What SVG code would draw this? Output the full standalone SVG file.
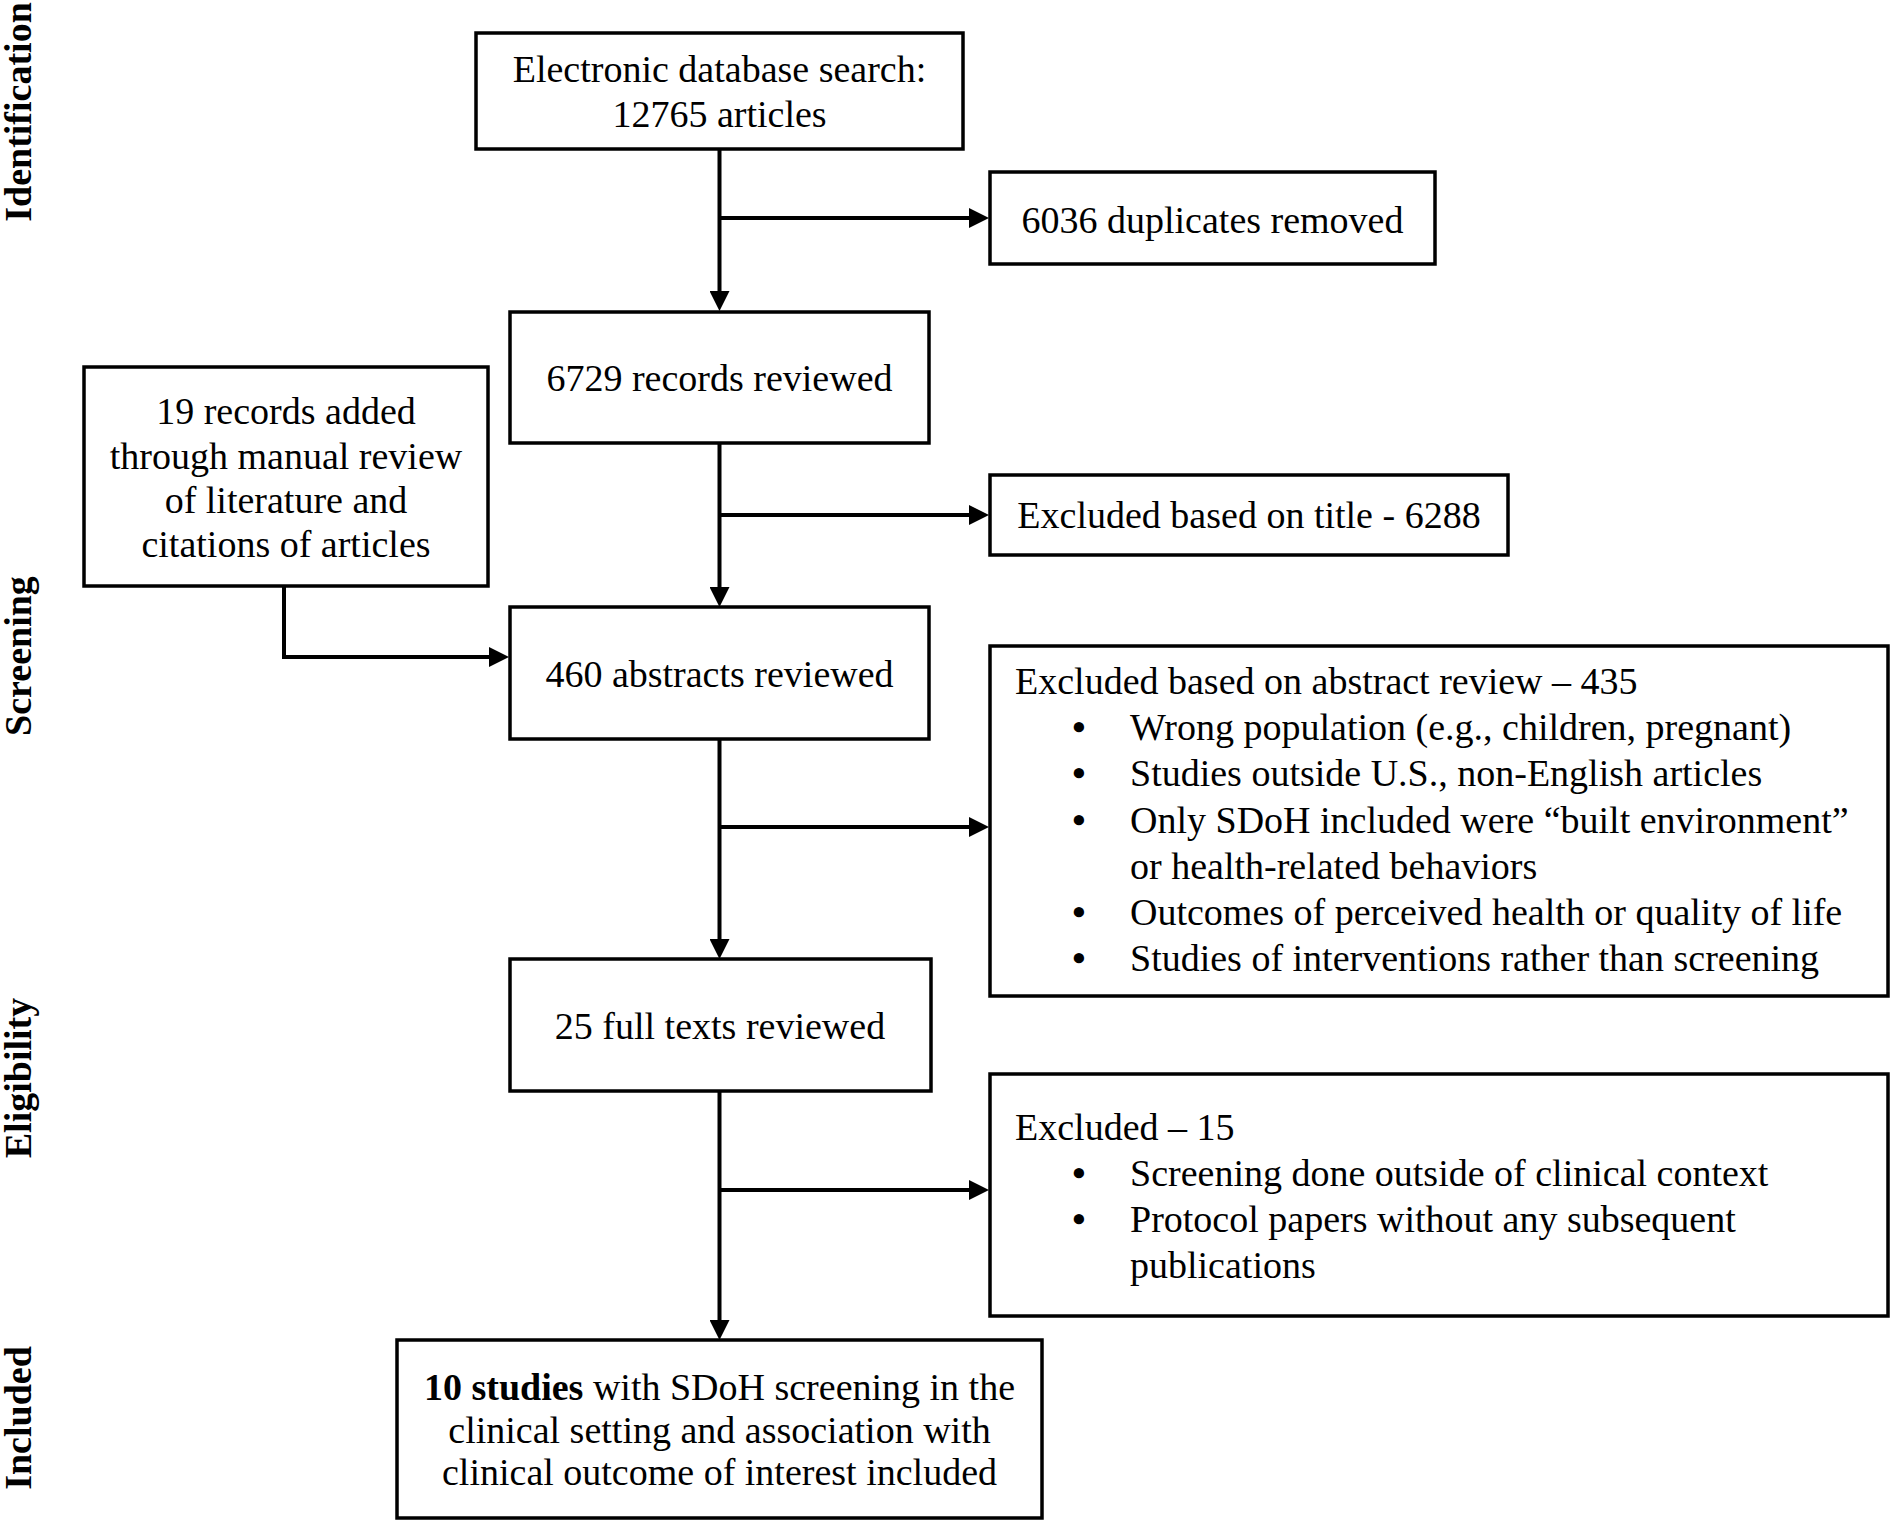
<svg xmlns="http://www.w3.org/2000/svg" width="1892" height="1521" viewBox="0 0 1892 1521">
<style>
  .box { fill: #ffffff; stroke: #000000; stroke-width: 3.5; }
  .t { font-family: "Liberation Serif", "Times New Roman", serif; font-size: 38px; fill: #000000; }
  .c { text-anchor: middle; }
  .b { font-family: "Liberation Serif", "Times New Roman", serif; font-size: 38px; font-weight: bold; fill: #000000; text-anchor: middle; }
  .lab { font-family: "Liberation Serif", "Times New Roman", serif; font-size: 38px; font-weight: bold; fill: #000000; text-anchor: middle; }
  .conn { fill: none; stroke: #000000; stroke-width: 4; }
</style>
<defs>
  <marker id="arr" markerUnits="userSpaceOnUse" markerWidth="20" markerHeight="20" refX="11" refY="10" orient="auto">
    <path d="M0,0 L20,10 L0,20 z" fill="#000000"/>
  </marker>
</defs>
<rect x="0" y="0" width="1892" height="1521" fill="#ffffff"/>

<g id="stage-labels">
  <text class="lab" transform="translate(31,112) rotate(-90)">Identification</text>
  <text class="lab" transform="translate(31,656) rotate(-90)">Screening</text>
  <text class="lab" transform="translate(31,1078) rotate(-90)">Eligibility</text>
  <text class="lab" transform="translate(31,1418) rotate(-90)">Included</text>
</g>

<g id="connectors">
  <line class="conn" x1="719.5" y1="149" x2="719.5" y2="302" marker-end="url(#arr)"/>
  <line class="conn" x1="719.5" y1="218" x2="980" y2="218" marker-end="url(#arr)"/>
  <line class="conn" x1="719.5" y1="443" x2="719.5" y2="598" marker-end="url(#arr)"/>
  <line class="conn" x1="719.5" y1="515" x2="980" y2="515" marker-end="url(#arr)"/>
  <path class="conn" d="M284,586 L284,657 L500,657" marker-end="url(#arr)"/>
  <line class="conn" x1="719.5" y1="739" x2="719.5" y2="950" marker-end="url(#arr)"/>
  <line class="conn" x1="719.5" y1="827" x2="980" y2="827" marker-end="url(#arr)"/>
  <line class="conn" x1="719.5" y1="1091" x2="719.5" y2="1331" marker-end="url(#arr)"/>
  <line class="conn" x1="719.5" y1="1190" x2="980" y2="1190" marker-end="url(#arr)"/>
</g>

<g id="n-search">
  <rect class="box" x="476" y="33" width="487" height="116"/>
  <text class="t c" x="719.5" y="82">Electronic database search:</text>
  <text class="t c" x="719.5" y="127">12765 articles</text>
</g>

<g id="n-duplicates">
  <rect class="box" x="990" y="172" width="445" height="92"/>
  <text class="t c" x="1212.5" y="233">6036 duplicates removed</text>
</g>

<g id="n-records">
  <rect class="box" x="510" y="312" width="419" height="131"/>
  <text class="t c" x="719.5" y="391">6729 records reviewed</text>
</g>

<g id="n-manual">
  <rect class="box" x="84" y="367" width="404" height="219"/>
  <text class="t c" x="286" y="424">19 records added</text>
  <text class="t c" x="286" y="468.5">through manual review</text>
  <text class="t c" x="286" y="513">of literature and</text>
  <text class="t c" x="286" y="557">citations of articles</text>
</g>

<g id="n-title-excl">
  <rect class="box" x="990" y="475" width="518" height="80"/>
  <text class="t c" x="1249" y="528">Excluded based on title - 6288</text>
</g>

<g id="n-abstracts">
  <rect class="box" x="510" y="607" width="419" height="132"/>
  <text class="t c" x="719.5" y="687">460 abstracts reviewed</text>
</g>

<g id="n-abstract-excl">
  <rect class="box" x="990" y="646" width="898" height="350"/>
  <text class="t" x="1015" y="694">Excluded based on abstract review – 435</text>
  <text class="b" x="1079" y="740">•</text>
  <text class="t" x="1130" y="740">Wrong population (e.g., children, pregnant)</text>
  <text class="b" x="1079" y="786">•</text>
  <text class="t" x="1130" y="786">Studies outside U.S., non-English articles</text>
  <text class="b" x="1079" y="833">•</text>
  <text class="t" x="1130" y="833">Only SDoH included were “built environment”</text>
  <text class="t" x="1130" y="879">or health-related behaviors</text>
  <text class="b" x="1079" y="925">•</text>
  <text class="t" x="1130" y="925">Outcomes of perceived health or quality of life</text>
  <text class="b" x="1079" y="971">•</text>
  <text class="t" x="1130" y="971">Studies of interventions rather than screening</text>
</g>

<g id="n-fulltexts">
  <rect class="box" x="510" y="959" width="421" height="132"/>
  <text class="t c" x="720" y="1039">25 full texts reviewed</text>
</g>

<g id="n-fulltext-excl">
  <rect class="box" x="990" y="1074" width="898" height="242"/>
  <text class="t" x="1015" y="1140">Excluded – 15</text>
  <text class="b" x="1079" y="1186">•</text>
  <text class="t" x="1130" y="1186">Screening done outside of clinical context</text>
  <text class="b" x="1079" y="1232">•</text>
  <text class="t" x="1130" y="1232">Protocol papers without any subsequent</text>
  <text class="t" x="1130" y="1278">publications</text>
</g>

<g id="n-included">
  <rect class="box" x="397" y="1340" width="645" height="178"/>
  <text class="t c" x="719.5" y="1400"><tspan font-weight="bold">10 studies</tspan> with SDoH screening in the</text>
  <text class="t c" x="719.5" y="1443">clinical setting and association with</text>
  <text class="t c" x="719.5" y="1485">clinical outcome of interest included</text>
</g>
</svg>
